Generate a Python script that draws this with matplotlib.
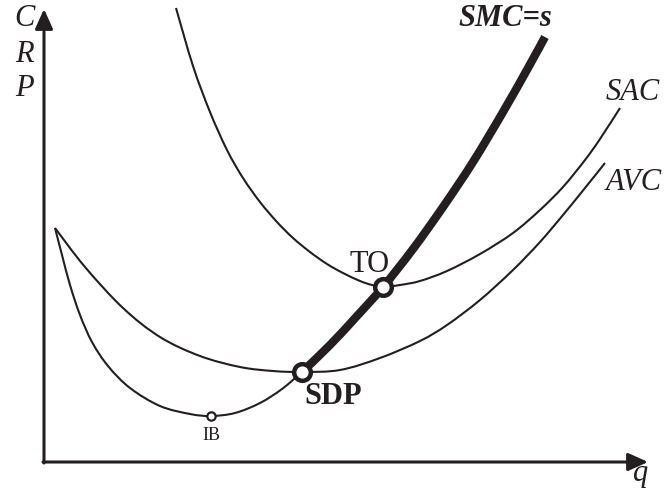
import numpy as np
import matplotlib.pyplot as plt
from matplotlib.path import Path
from matplotlib.patches import PathPatch

# Cost curves (q, cost), origin at the axes corner
smc_q = [11, 18, 26, 36, 48, 64, 86, 116, 146, 167, 191, 216, 238, 258]
smc_c = [234, 207, 177, 147, 120, 96, 74, 56, 48, 46, 49, 59, 73, 90]

# supply part of SMC (from the shutdown point upward)
supply_q = [258, 286, 313, 339, 369, 399, 429, 459, 484, 501]
supply_c = [90, 117, 146, 175, 213, 255, 300, 350, 394, 425]

avc_q = [11, 41, 79, 116, 156, 196, 229, 258, 296, 336, 376, 403, 436, 469, 496, 519, 541, 561]
avc_c = [234, 195, 154, 125, 106, 95, 91, 90, 92, 104, 121, 137, 162, 192, 220, 247, 274, 299]

sac_q = [132, 149, 166, 183, 199, 216, 233, 249, 266, 283, 299, 316, 328, 339,
         356, 376, 403, 436, 469, 496, 519, 541, 556, 576]
sac_c = [454, 396, 350, 312, 284, 260, 240, 224, 210, 198, 189, 181, 177, 175,
         177, 181, 191, 208, 229, 252, 275, 302, 323, 354]

# marked points
ib = (167, 46)
sdp = (258, 90)
to = (339, 175)

ink = '#231f20'
serif = 'Liberation Serif'


# Function: smooth_path
# Builds a smooth Bezier path through the read points (Catmull-Rom style)
def smooth_path(xs, ys):
    pts = np.column_stack([xs, ys]).astype(float)
    n = len(pts)
    verts = [pts[0]]
    codes = [Path.MOVETO]
    for i in range(n - 1):
        p0 = pts[max(i - 1, 0)]
        p1 = pts[i]
        p2 = pts[i + 1]
        p3 = pts[min(i + 2, n - 1)]
        verts += [p1 + (p2 - p0) / 6, p2 - (p3 - p1) / 6, p2]
        codes += [Path.CURVE4] * 3
    return Path(verts, codes)


def draw_curve(ax, xs, ys, lw):
    patch = PathPatch(smooth_path(xs, ys), fill=False, edgecolor=ink, lw=lw,
                      capstyle='butt', joinstyle='round')
    ax.add_patch(patch)


fig = plt.figure(figsize=(6.64, 4.92), dpi=100)
ax = fig.add_axes([0, 0, 1, 1])
ax.set_xlim(-44, 620)
ax.set_ylim(-30, 462)
ax.axis('off')

# axes with arrows
arrow = dict(arrowstyle='-|>,head_length=1.0,head_width=0.45', color=ink,
             lw=2.2, mutation_scale=12, shrinkA=0, shrinkB=0)
ax.annotate('', xy=(0, 453), xytext=(0, -1), arrowprops=arrow)
ax.annotate('', xy=(604, 0), xytext=(-1, 0), arrowprops=arrow)

draw_curve(ax, sac_q, sac_c, 1.5)
draw_curve(ax, avc_q, avc_c, 1.5)
draw_curve(ax, smc_q, smc_c, 1.5)
draw_curve(ax, supply_q, supply_c, 6)

# points
ax.plot(*ib, 'o', ms=6, mfc='white', mec=ink, mew=1.6, zorder=5)
for p in (sdp, to):
    ax.plot(*p, 'o', ms=12, mfc='white', mec=ink, mew=3.2, zorder=5)

# axis labels
for lab, y in zip(['C', 'R', 'P'], [443, 407, 373]):
    ax.text(-20, y, lab, family=serif, style='italic', fontsize=22,
            ha='center', va='center', color=ink)
ax.text(597, -12, 'q', family=serif, style='italic', fontsize=22,
        ha='center', va='center', color=ink)

# curve labels
ax.text(461, 443, 'SMC=s', family=serif, style='italic', weight='bold',
        fontsize=22, ha='center', va='center', color=ink)
ax.text(589, 370, 'SAC', family=serif, style='italic', fontsize=22,
        ha='center', va='center', color=ink)
ax.text(590, 279, 'AVC', family=serif, style='italic', fontsize=22,
        ha='center', va='center', color=ink)
ax.text(326, 198, 'TO', family=serif, fontsize=22,
        ha='center', va='center', color=ink)
ax.text(289, 65, 'SDP', family=serif, weight='bold', fontsize=22,
        ha='center', va='center', color=ink)
ax.text(167, 27, 'IB', family=serif, fontsize=13,
        ha='center', va='center', color=ink)

fig.savefig('out.png', dpi=100)
